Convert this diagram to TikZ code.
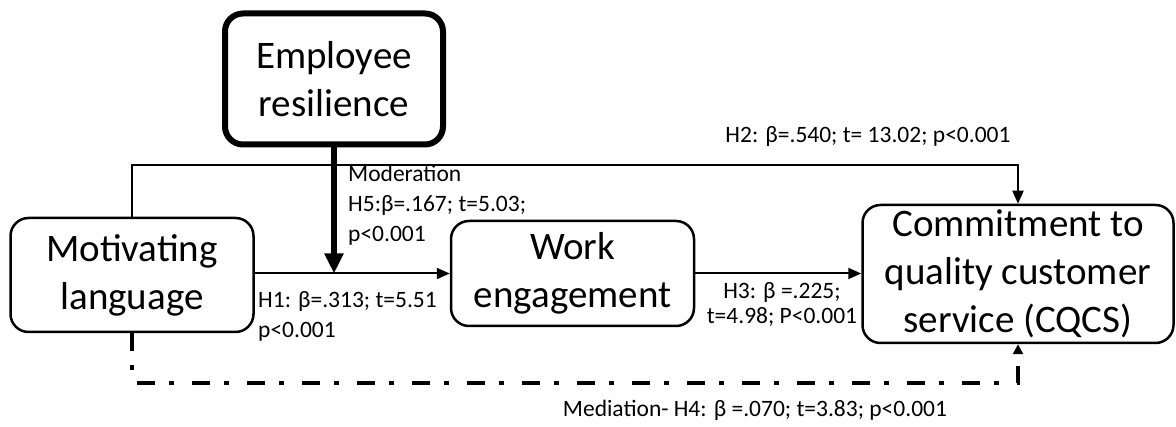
\documentclass[tikz,border=0pt]{standalone}
\usepackage{fontspec}
\setmainfont{Carlito}
\usetikzlibrary{arrows.meta}
\tikzset{
  box/.style={draw, line width=2.5pt, rounded corners=18pt, inner sep=0pt, align=center,
    font=\fontsize{39}{48}\selectfont},
  thickbox/.style={box, line width=6pt},
  lbl/.style={inner sep=0pt, font=\fontsize{23.5}{30}\selectfont},
  conn/.style={line width=2pt, -{Triangle[length=13pt,width=11pt]}},
  modarrow/.style={line width=5.5pt, -{Triangle[length=20pt,width=18pt]}},
  medline/.style={line width=4pt, dash pattern=on 18pt off 14pt on 5pt off 18pt,
    -{Triangle[length=10pt,width=10pt]}}
}
\begin{document}
\begin{tikzpicture}[x=1pt,y=1pt]
\useasboundingbox (0,0) rectangle (1176,-427);
\node[thickbox, minimum width=218pt, minimum height=131pt] (emp) at (334,-79) {Employee\\resilience};
\node[box, minimum width=243pt, minimum height=114pt] (mot) at (132,-275) {Motivating\\language};
\node[box, minimum width=243pt, minimum height=105pt] (wk) at (572.5,-273.5) {Work\\engagement};
\node[box, minimum width=311pt, minimum height=138pt] (cq) at (1018,-274) {Commitment to\\quality customer\\service (CQCS)};
\coordinate (h2) at (500,-165);
\coordinate (med) at (500,-383);
\coordinate (mt) at (emp.south |- wk.west);
\draw[conn] (mot.north) |- (h2) -| (cq.north);
\draw[conn] (mot.east |- wk.west) -- (wk.west);
\draw[conn] (wk.east) -- (cq.west |- wk.east);
\draw[modarrow] (emp.south) -- (mt);
\draw[medline] (mot.south) |- (med) -| (cq.south);
\node[lbl] (lh2) at (868,-137) {H2: β=.540; t= 13.02; p<0.001};
\node[lbl, anchor=north west, align=left] (lh5) at (348,-165) {Moderation\\H5:β=.167; t=5.03;\\p<0.001};
\node[lbl, anchor=north west, align=left] (lh1) at (258,-291) {H1: β=.313; t=5.51\\p<0.001};
\node[lbl, align=center, font=\fontsize{23.5}{25}\selectfont] (lh3) at (782,-304) {H3: β =.225;\\t=4.98; P<0.001};
\node[lbl] (lh4) at (755,-410) {Mediation- H4: β =.070; t=3.83; p<0.001};
\end{tikzpicture}
\end{document}
